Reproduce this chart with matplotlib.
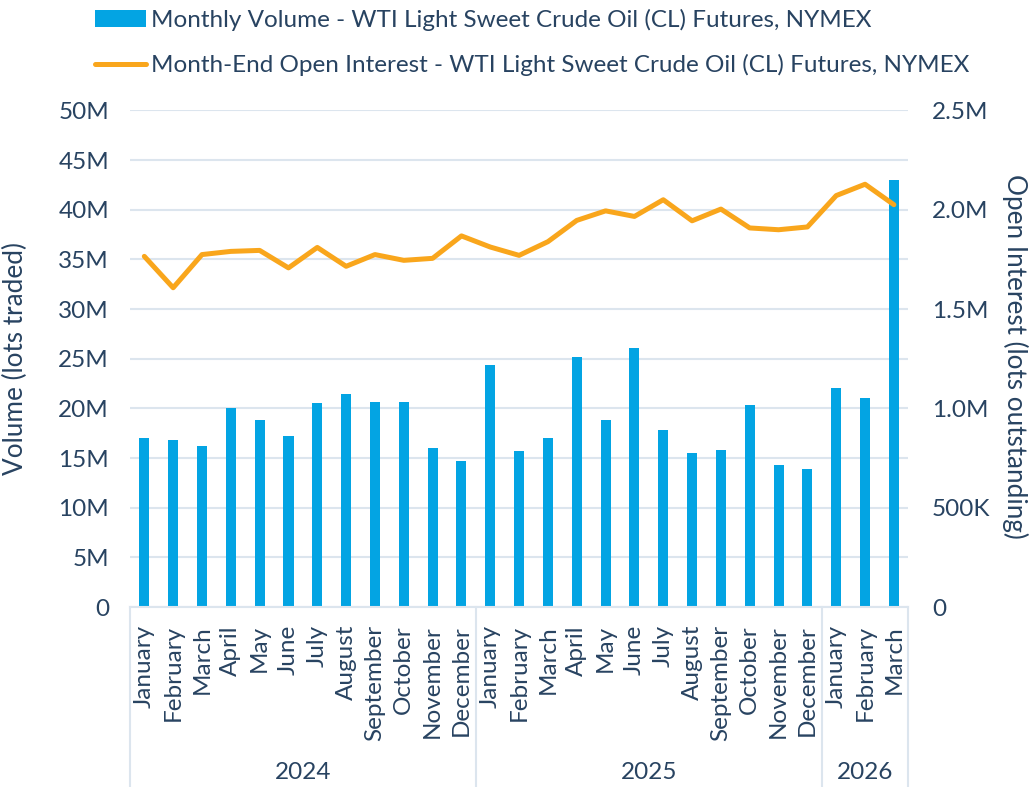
import numpy as np
import matplotlib.pyplot as plt
from matplotlib.ticker import FixedLocator
import matplotlib.transforms as mtransforms

plt.rcParams['font.family'] = ['Lato', 'DejaVu Sans']

months = ['January', 'February', 'March', 'April', 'May', 'June', 'July',
          'August', 'September', 'October', 'November', 'December',
          'January', 'February', 'March', 'April', 'May', 'June', 'July',
          'August', 'September', 'October', 'November', 'December',
          'January', 'February', 'March']
years = ['2024', '2025', '2026']
year_counts = [12, 12, 3]

# monthly volume, lots traded
volume = np.array([17.0, 16.8, 16.2, 20.0, 18.8, 17.2, 20.5, 21.4, 20.6, 20.6, 16.0, 14.7,
                   24.35, 15.7, 17.0, 25.15, 18.8, 26.05, 17.8, 15.5, 15.8, 20.3, 14.3, 13.9,
                   22.0, 21.0, 42.95]) * 1e6
# month-end open interest, lots outstanding
open_interest = np.array([1.765, 1.607, 1.774, 1.790, 1.795, 1.707, 1.810, 1.715, 1.774, 1.745,
                          1.755, 1.868, 1.812, 1.770, 1.839, 1.946, 1.994, 1.966, 2.050, 1.944,
                          2.003, 1.908, 1.899, 1.913, 2.071, 2.128, 2.025]) * 1e6

vol_ticks = [0, 5e6, 10e6, 15e6, 20e6, 25e6, 30e6, 35e6, 40e6, 45e6, 50e6]
vol_labels = ['0', '5M', '10M', '15M', '20M', '25M', '30M', '35M', '40M', '45M', '50M']
oi_ticks = [0, 0.5e6, 1.0e6, 1.5e6, 2.0e6, 2.5e6]
oi_labels = ['0', '500K', '1.0M', '1.5M', '2.0M', '2.5M']

blue = '#03A4E3'
orange = '#F9A61C'
text_col = '#284361'
grid_col = '#DCE5EE'
fs = 17.5

fig = plt.figure(figsize=(10.31, 7.87), dpi=100)
ax = fig.add_axes([0.126, 0.2287, 0.755, 0.6311])
x = np.arange(len(months))

ax.bar(x, volume, width=0.35, color=blue, label='Monthly Volume - WTI Light Sweet Crude Oil (CL) Futures, NYMEX', zorder=2)
ax.set_xlim(-0.5, len(months) - 0.5)
ax.set_ylim(0, 50e6)
ax.yaxis.set_major_locator(FixedLocator(vol_ticks))
ax.set_yticklabels(vol_labels)
ax.grid(axis='y', color=grid_col, lw=1.5, zorder=0)
ax.set_axisbelow(True)
ax.set_xticks(x)
ax.set_xticklabels(months, rotation=90, va='top', ha='center')
ax.tick_params(axis='x', length=0, pad=13, labelsize=fs, colors=text_col)
ax.tick_params(axis='y', length=0, pad=15, labelsize=fs, colors=text_col)
for s in ['top', 'left', 'right']:
    ax.spines[s].set_visible(False)
ax.spines['bottom'].set_color(grid_col)
ax.spines['bottom'].set_linewidth(1.5)
ax.set_ylabel('Volume (lots traded)', fontsize=18.8, color=text_col)
ax.yaxis.set_label_coords(-0.131, 0.5)

ax2 = ax.twinx()
ax2.plot(x, open_interest, color=orange, lw=3.6, solid_capstyle='round', solid_joinstyle='round',
         label='Month-End Open Interest - WTI Light Sweet Crude Oil (CL) Futures, NYMEX')
ax2.set_ylim(0, 2.5e6)
ax2.yaxis.set_major_locator(FixedLocator(oi_ticks))
ax2.set_yticklabels(oi_labels)
ax2.tick_params(axis='y', length=0, pad=17, labelsize=fs, colors=text_col)
for s in ['top', 'left', 'right', 'bottom']:
    ax2.spines[s].set_visible(False)
ax2.set_ylabel('Open Interest (lots outstanding)', fontsize=18.8, color=text_col, rotation=270, va='center')
ax2.yaxis.set_label_coords(1.1375, 0.505)

# year group separators and labels
trans = mtransforms.blended_transform_factory(ax.transData, ax.transAxes)
edges = np.concatenate([[0], np.cumsum(year_counts)]) - 0.5
for e in edges:
    ax.plot([e, e], [0, -0.365], transform=trans, color=grid_col, lw=1.5, clip_on=False)
for i, yr in enumerate(years):
    ax.text((edges[i] + edges[i + 1]) / 2, -0.333, yr, transform=trans, ha='center', va='center',
            fontsize=fs, color=text_col)

h1, l1 = ax.get_legend_handles_labels()
h2, l2 = ax2.get_legend_handles_labels()
leg = fig.legend(h1 + h2, l1 + l2, loc='upper left', bbox_to_anchor=(0.092, 1 - 9 / 787), frameon=False,
                 fontsize=fs, handlelength=2.1, handletextpad=0.2, labelspacing=0.95,
                 borderpad=0, borderaxespad=0)
for t in leg.get_texts():
    t.set_color(text_col)

fig.savefig('out.png', dpi=100)
